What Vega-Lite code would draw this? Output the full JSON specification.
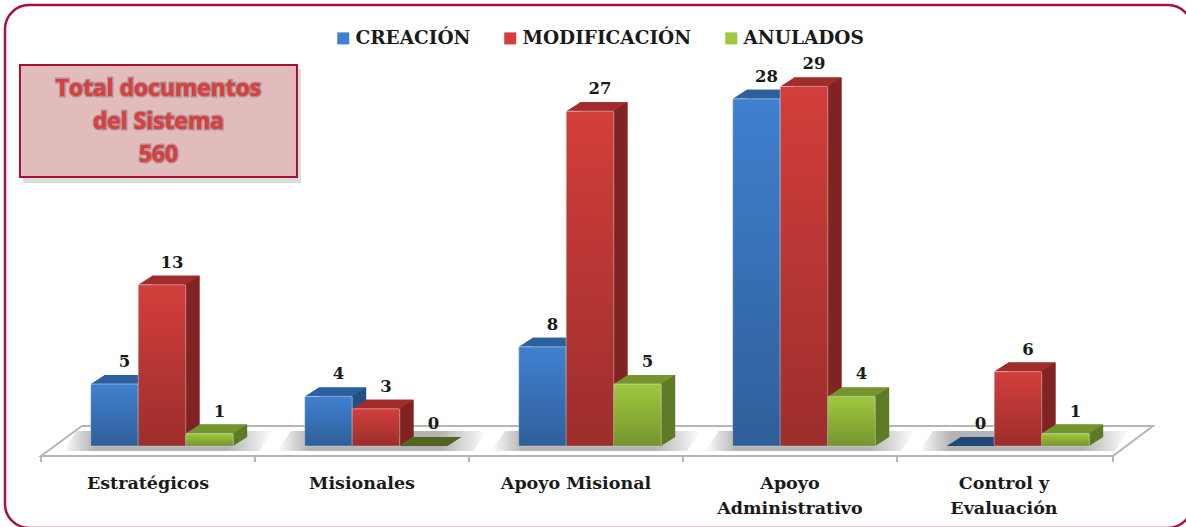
{"$schema":"https://vega.github.io/schema/vega-lite/v6.json","width":1187,"height":523,"padding":{"left":5,"top":5,"right":0,"bottom":0},"autosize":"none","background":"white","view":{"stroke":"#a8123a","strokeWidth":2.5,"cornerRadius":24,"fill":"white"},"data":{"values":[
{"proceso":"Estratégicos","serie":"CREACIÓN","valor":5},{"proceso":"Estratégicos","serie":"MODIFICACIÓN","valor":13},{"proceso":"Estratégicos","serie":"ANULADOS","valor":1},
{"proceso":"Misionales","serie":"CREACIÓN","valor":4},{"proceso":"Misionales","serie":"MODIFICACIÓN","valor":3},{"proceso":"Misionales","serie":"ANULADOS","valor":0},
{"proceso":"Apoyo Misional","serie":"CREACIÓN","valor":8},{"proceso":"Apoyo Misional","serie":"MODIFICACIÓN","valor":27},{"proceso":"Apoyo Misional","serie":"ANULADOS","valor":5},
{"proceso":"Apoyo Administrativo","serie":"CREACIÓN","valor":28},{"proceso":"Apoyo Administrativo","serie":"MODIFICACIÓN","valor":29},{"proceso":"Apoyo Administrativo","serie":"ANULADOS","valor":4},
{"proceso":"Control y Evaluación","serie":"CREACIÓN","valor":0},{"proceso":"Control y Evaluación","serie":"MODIFICACIÓN","valor":6},{"proceso":"Control y Evaluación","serie":"ANULADOS","valor":1}]},
"encoding":{
"x":{"field":"proceso","type":"nominal","title":null,"scale":{"domain":["Estratégicos","Misionales","Apoyo Misional","Apoyo Administrativo","Control y Evaluación"],"paddingInner":0,"paddingOuter":0.2734,"align":0.427},"axis":{"orient":"bottom","offset":-72,"domain":false,"ticks":false,"tickSize":0,"labelOffset":-14,"labelAngle":0,"labelPadding":18,"labelFont":"DejaVu Serif","labelFontWeight":"bold","labelFontSize":17.5,"labelColor":"#1a1a1a","labelLineHeight":25,"labelBaseline":"top","labelLimit":0,"labelExpr":"datum.label=='Apoyo Administrativo'?['Apoyo','Administrativo']:datum.label=='Control y Evaluación'?['Control y','Evaluación']:datum.label","grid":false}},
"xOffset":{"field":"serie","type":"nominal","scale":{"domain":["CREACIÓN","MODIFICACIÓN","ANULADOS"],"paddingInner":0,"paddingOuter":0.753}},
"y":{"field":"valor","type":"quantitative","stack":null,"title":null,"scale":{"domain":[-6.613,35.565],"nice":false,"zero":false},"axis":null}},
"resolve":{"scale":{"color":"independent"}},
"layer":[
{"transform":[{"filter":"datum.serie=='ANULADOS'&&datum.proceso=='Estratégicos'"}],"mark":{"type":"point","filled":true,"opacity":1,"size":4,"shape":"M-549,10 L-508,-20 L563,-20 L523,10 Z M-549,10 L-549,16 M-335,10 L-335,16 M-121,10 L-121,16 M93,10 L93,16 M307,10 L307,16 M523,10 L523,16","fill":"white","stroke":"#b5b5b5","strokeWidth":2},"encoding":{"x":{"datum":"Apoyo Misional"},"xOffset":{"value":107},"y":{"datum":0}}},
{"transform":[{"filter":"datum.serie=='MODIFICACIÓN'"}],"mark":{"type":"point","filled":true,"opacity":1,"size":4,"strokeWidth":0,"shape":"M-85,-15 L111,-15 L97,5 L-99,5 Z","fill":{"gradient":"linear","x1":0,"x2":1,"y1":0,"y2":0,"stops":[{"offset":0,"color":"#ffffff"},{"offset":0.15,"color":"#b4b4b4"},{"offset":0.78,"color":"#b4b4b4"},{"offset":1,"color":"#ffffff"}]}},"encoding":{"xOffset":{"value":107},"y":{"datum":0}}},
{"mark":{"type":"point","filled":true,"opacity":1,"size":4,"strokeWidth":0,"shape":"M23.7,0 L37.7,-9 L23.7,-9 Z"},"encoding":{"y":{"datum":0},"color":{"field":"serie","type":"nominal","legend":null,"scale":{"domain":["CREACIÓN","MODIFICACIÓN","ANULADOS"],"range":["#234f86","#7f2423","#5f7a27"]}}}},
{"transform":[{"filter":"datum.serie=='CREACIÓN'&&datum.valor>0"}],"mark":{"type":"bar","width":47.5,"yOffset":-9,"y2Offset":-9,"color":"#234f86"},"encoding":{"xOffset":{"value":73.5},"y2":{"datum":0}}},
{"transform":[{"filter":"datum.serie=='MODIFICACIÓN'&&datum.valor>0"}],"mark":{"type":"bar","width":47.5,"yOffset":-9,"y2Offset":-9,"color":"#7f2423"},"encoding":{"xOffset":{"value":121},"y2":{"datum":0}}},
{"transform":[{"filter":"datum.serie=='ANULADOS'&&datum.valor>0"}],"mark":{"type":"bar","width":47.5,"yOffset":-9,"y2Offset":-9,"color":"#5f7a27"},"encoding":{"xOffset":{"value":168.5},"y2":{"datum":0}}},
{"transform":[{"filter":"datum.valor>0"}],"mark":{"type":"point","filled":true,"opacity":1,"size":4,"strokeWidth":0,"shape":"M-23.7,0 L-9.7,-9 L37.7,-9 L23.7,0 Z"},"encoding":{"color":{"field":"serie","type":"nominal","legend":null,"scale":{"domain":["CREACIÓN","MODIFICACIÓN","ANULADOS"],"range":["#2b5f9e","#a22c2a","#75952f"]}}}},
{"transform":[{"filter":"datum.valor==0"}],"mark":{"type":"point","filled":true,"opacity":1,"size":4,"strokeWidth":0,"shape":"M-23.7,0 L-9.7,-9 L37.7,-9 L23.7,0 Z"},"encoding":{"color":{"field":"serie","type":"nominal","legend":null,"scale":{"domain":["CREACIÓN","MODIFICACIÓN","ANULADOS"],"range":["#1f4778","#8a2020","#4f6520"]}}}},
{"transform":[{"filter":"datum.valor>0"}],"mark":{"type":"bar","cornerRadius":1,"stroke":"#e8e8e8","strokeWidth":0.5},"encoding":{"y2":{"datum":0},"color":{"field":"serie","type":"nominal","title":null,"scale":{"domain":["CREACIÓN","MODIFICACIÓN","ANULADOS"],"range":["#3f80cf","#d23e3b","#a0c83e"]},"legend":{"orient":"none","legendX":329,"legendY":24,"direction":"horizontal","columns":3,"symbolType":"square","symbolSize":144,"symbolStrokeWidth":0,"columnPadding":30,"labelFont":"DejaVu Serif","labelFontWeight":"bold","labelFontSize":18.5,"labelColor":"#1a1a1a","labelOffset":3,"labelLimit":0,"title":null}}}},
{"transform":[{"filter":"datum.valor>0"}],"mark":{"type":"bar","cornerRadius":1,"fill":{"gradient":"linear","x1":0,"x2":0,"y1":0,"y2":1,"stops":[{"offset":0,"color":"rgba(0,0,0,0)"},{"offset":1,"color":"rgba(0,0,0,0.26)"}]}},"encoding":{"y2":{"datum":0}}},
{"mark":{"type":"text","font":"DejaVu Serif","fontWeight":"bold","fontSize":16.5,"dx":10,"dy":-22,"color":"#1a1a1a"},"encoding":{"text":{"field":"valor","type":"quantitative"}}},
{"data":{"values":[{"proceso":"Estratégicos","nivel":26.2,"texto":["Total documentos","del Sistema","560"]}]},"layer":[
{"mark":{"type":"point","filled":true,"opacity":0.55,"size":4,"strokeWidth":0,"shape":"M-139,-52 L139,-52 L139,62 L-139,62 Z","fill":"#bdbdbd"},"encoding":{"xOffset":{"value":107},"y":{"field":"nivel","type":"quantitative"}}},
{"mark":{"type":"point","filled":true,"opacity":1,"size":4,"shape":"M-142,-56 L135,-56 L135,56 L-142,56 Z","fill":"#e2bcbd","stroke":"#a5102f","strokeWidth":2},"encoding":{"xOffset":{"value":107},"y":{"field":"nivel","type":"quantitative"}}},
{"mark":{"type":"text","font":"Open Sans","fontWeight":"bold","fontSize":22.8,"lineHeight":33,"align":"center","baseline":"middle","dx":-3.5,"dy":-32,"color":"#d9403f","stroke":"#7a5a5a","strokeOpacity":0.45,"strokeWidth":3},"encoding":{"xOffset":{"value":107},"y":{"field":"nivel","type":"quantitative"},"text":{"field":"texto"}}},
{"mark":{"type":"text","font":"Open Sans","fontWeight":"bold","fontSize":22.8,"lineHeight":33,"align":"center","baseline":"middle","dx":-3.5,"dy":-32,"color":"#d9403f"},"encoding":{"xOffset":{"value":107},"y":{"field":"nivel","type":"quantitative"},"text":{"field":"texto"}}}
]}
]}
